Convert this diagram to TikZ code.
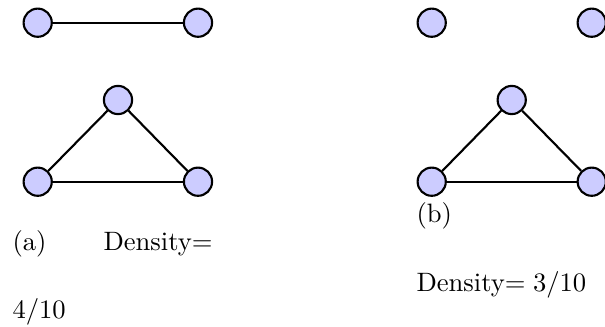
\documentclass[tikz,border=0pt]{standalone}
\begin{document}
\begin{tikzpicture}[x=0.376pt,y=-0.376pt,
  vtx/.style={circle,draw=black,fill=blue!20,line width=0.8pt,inner sep=0pt,minimum size=10.6pt},
  edg/.style={line width=0.8pt},
  lbl/.style={anchor=base west,inner sep=0pt}]
\useasboundingbox (0,0) rectangle (605,326);
% (a)
\node[vtx] (a1) at (37.7,22.7) {};
\node[vtx] (a2) at (198,22.7) {};
\node[vtx] (a3) at (118,100) {};
\node[vtx] (a4) at (37.7,181.7) {};
\node[vtx] (a5) at (198,181.7) {};
\draw[edg] (a1) -- (a2);
\draw[edg] (a3) -- (a4);
\draw[edg] (a3) -- (a5);
\draw[edg] (a4) -- (a5);
% (b)
\node[vtx] (b1) at (431.7,22.7) {};
\node[vtx] (b2) at (591.7,22.7) {};
\node[vtx] (b3) at (511.7,100) {};
\node[vtx] (b4) at (431.7,181.7) {};
\node[vtx] (b5) at (591.7,181.7) {};
\draw[edg] (b3) -- (b4);
\draw[edg] (b3) -- (b5);
\draw[edg] (b4) -- (b5);
% labels
\node[lbl] (capa) at (12,250) {(a)};
\node[lbl] (densa) at (103,250) {Density$=$};
\node[lbl] (vala) at (12,318) {$4/10$};
\node[lbl] (capb) at (416,222.5) {(b)};
\node[lbl] (densb) at (416,291) {Density$=3/10$};
\end{tikzpicture}
\end{document}
